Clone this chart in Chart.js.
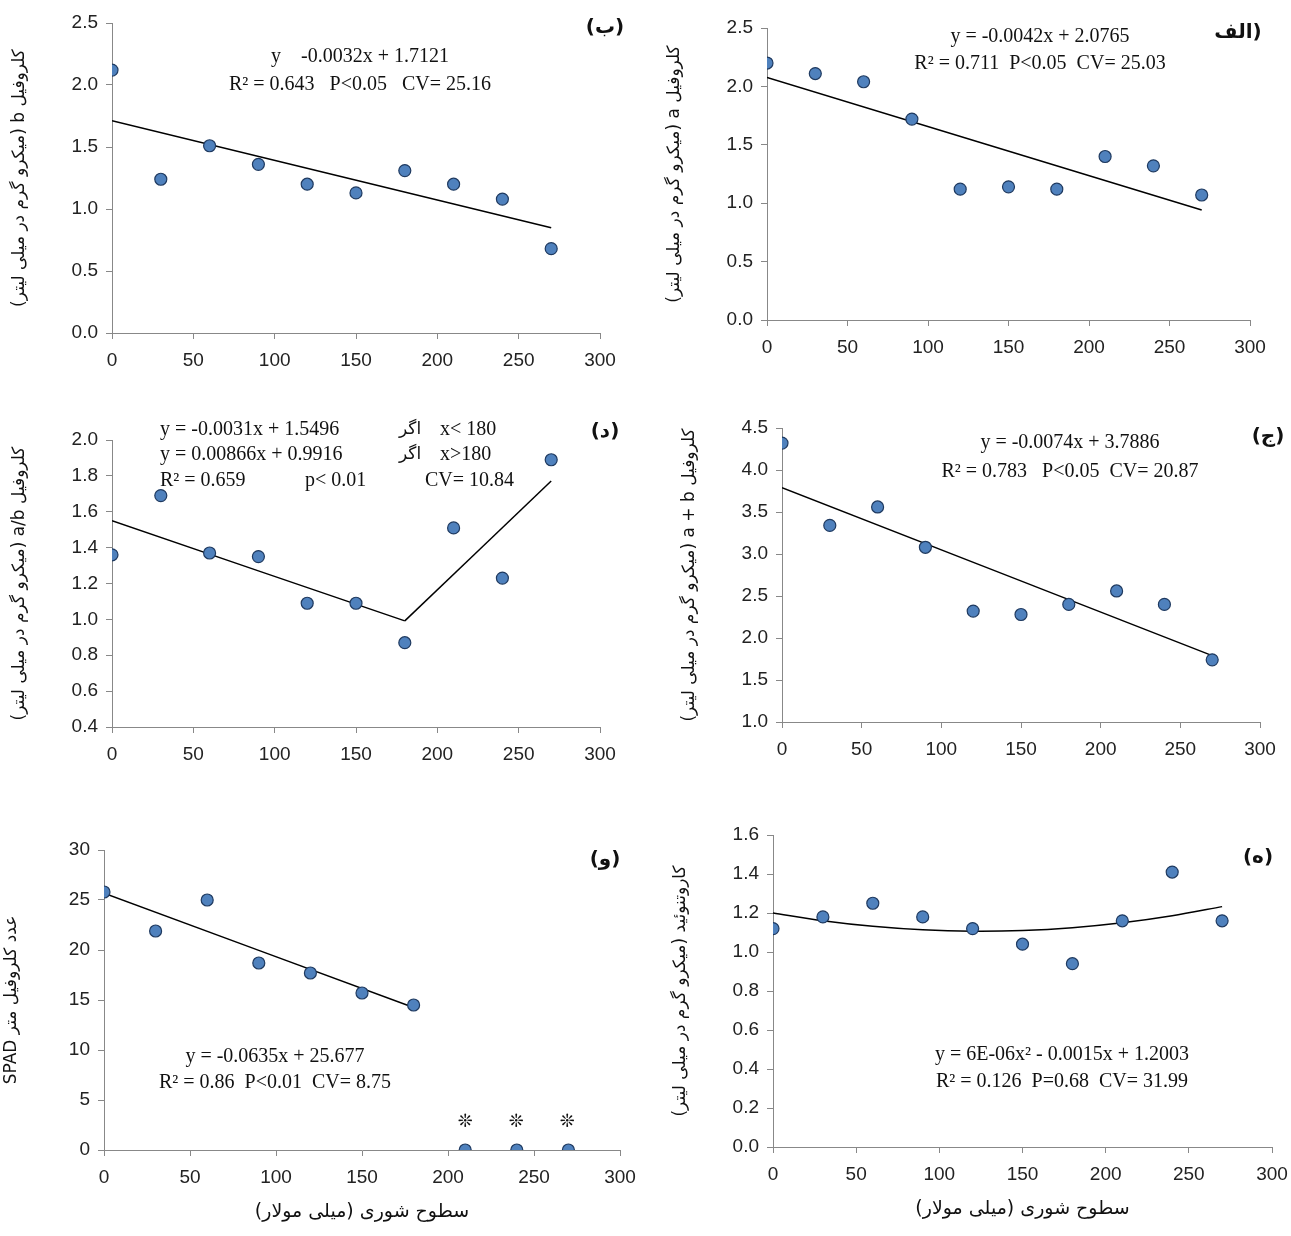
<!DOCTYPE html>
<html><head><meta charset="utf-8">
<script src="https://cdn.jsdelivr.net/npm/chart.js@4.4.0/dist/chart.umd.min.js"></script>
<style>
body{margin:0;background:#fff;width:1291px;height:1236px;position:relative;overflow:hidden}
canvas{position:absolute}
</style></head><body>
<script>
// salinity levels (mM)
const salinity = [0, 30, 60, 90, 120, 150, 180, 210, 240, 270];
const chlA = [2.20, 2.11, 2.04, 1.72, 1.12, 1.14, 1.12, 1.40, 1.32, 1.07];
const chlB = [2.12, 1.24, 1.51, 1.36, 1.20, 1.13, 1.31, 1.20, 1.08, 0.68];
const ratioAB = [1.36, 1.69, 1.37, 1.35, 1.09, 1.09, 0.87, 1.51, 1.23, 1.89];
const chlTotal = [4.32, 3.34, 3.56, 3.08, 2.32, 2.28, 2.40, 2.56, 2.40, 1.74];
const spad = [25.8, 21.9, 25.0, 18.7, 17.7, 15.7, 14.5, 0, 0, 0];
const carot = [1.12, 1.18, 1.25, 1.18, 1.12, 1.04, 0.94, 1.16, 1.41, 1.16];

// fitted trend coefficients [c0, c1, c2] from printed equations
const fitA = [2.0765, -0.0042];
const fitB = [1.7121, -0.0032];
const fitTotal = [3.7886, -0.0074];
const fitSpad = [25.677, -0.0635];
const fitCarot = [1.2003, -0.0015, 6e-6];
const fitRatioLow = [1.5496, -0.0031];
const fitRatioHigh = [-0.5672, 0.00866];

const poly = (c, x) => c.reduce((s, k, i) => s + k * Math.pow(x, i), 0);
const trend = (c, xs) => xs.map(x => ({x, y: poly(c, x)}));

const FA = '"DejaVu Sans", sans-serif';
const SERIF = '"Liberation Serif", serif';

function makePanel(o) {
  const padL = 110, padT = 30, padR = 30, padB = o.xTitle ? 80 : 50;
  const cv = document.createElement('canvas');
  const W = o.area[2] - o.area[0] + padL + padR;
  const H = o.area[3] - o.area[1] + padT + padB;
  const ox = o.area[0] - padL, oy = o.area[1] - padT;
  cv.width = W; cv.height = H;
  cv.style.left = ox + 'px'; cv.style.top = oy + 'px';
  cv.style.width = W + 'px'; cv.style.height = H + 'px';
  document.body.appendChild(cv);

  const textPlugin = {
    id: 'txt',
    afterDraw(chart) {
      const ctx = chart.ctx;
      ctx.save();
      ctx.fillStyle = '#111';
      // vertical y title, first word at the top
      ctx.save();
      ctx.translate(18, (chart.chartArea.top + chart.chartArea.bottom) / 2);
      ctx.rotate(-Math.PI / 2);
      ctx.font = '17px ' + FA;
      ctx.textAlign = 'center'; ctx.textBaseline = 'middle';
      ctx.direction = 'rtl';
      ctx.fillText(o.yTitle, 0, 0);
      ctx.restore();
      (o.texts || []).forEach(t => {
        ctx.font = t.font || ('20px ' + SERIF);
        ctx.textAlign = t.align || 'center';
        ctx.textBaseline = 'middle';
        ctx.direction = t.rtl ? 'rtl' : 'ltr';
        ctx.fillText(t.s, t.x - ox, t.y - oy);
      });
      if (o.xTitle) {
        ctx.font = '19px ' + FA; ctx.direction = 'rtl'; ctx.textAlign = 'center';
        ctx.fillText(o.xTitle, (chart.chartArea.left + chart.chartArea.right) / 2, H - 18);
      }
      ctx.restore();
    }
  };

  const datasets = [{
    type: 'scatter',
    data: salinity.map((x, i) => ({x, y: o.values[i]})),
    backgroundColor: '#4F81BD', borderColor: '#1F3A60', borderWidth: 1.2,
    pointRadius: 6, order: 0
  }];
  o.lines.forEach(l => datasets.push({
    type: 'line', data: l, borderColor: '#000', borderWidth: 1.5,
    pointRadius: 0, fill: false, tension: 0.3, order: 1
  }));

  new Chart(cv, {
    data: {datasets},
    plugins: [textPlugin],
    options: {
      responsive: false, animation: false, devicePixelRatio: 1,
      layout: {padding: {left: 0, top: padT, right: padR, bottom: padB - 45}},
      plugins: {legend: {display: false}, tooltip: {enabled: false}},
      scales: {
        x: {
          type: 'linear', min: 0, max: 300,
          afterFit(s) { s.height = 45; },
          ticks: {stepSize: 50, font: {size: 19, family: '"Liberation Sans"'}, color: '#222', maxRotation: 0, padding: 10},
          grid: {drawOnChartArea: false, tickLength: 6, color: '#888'},
          border: {color: '#888'}
        },
        y: {
          min: o.yMin, max: o.yMax,
          afterFit(s) { s.width = padL; },
          ticks: {stepSize: o.yStep, font: {size: 19, family: '"Liberation Sans"'}, color: '#222', padding: 8,
            callback: v => o.dec ? v.toFixed(1) : v},
          grid: {drawOnChartArea: false, tickLength: 6, color: '#888'},
          border: {color: '#888'}
        }
      }
    }
  });
}

const unit = '(میکرو گرم در میلی لیتر)';

makePanel({area: [112, 23, 600, 333], values: chlB, yMin: 0, yMax: 2.5, yStep: 0.5, dec: true,
  yTitle: 'کلروفیل b ' + unit, lines: [trend(fitB, [0, 270])],
  texts: [{s: 'y    -0.0032x + 1.7121', x: 360, y: 57}, {s: 'R² = 0.643   P<0.05   CV= 25.16', x: 360, y: 85},
    {s: '(ب)', x: 605, y: 28, font: 'bold 20px ' + FA, rtl: true}]});

makePanel({area: [767, 28, 1250, 320], values: chlA, yMin: 0, yMax: 2.5, yStep: 0.5, dec: true,
  yTitle: 'کلروفیل a ' + unit, lines: [trend(fitA, [0, 270])],
  texts: [{s: 'y = -0.0042x + 2.0765', x: 1040, y: 37}, {s: 'R² = 0.711  P<0.05  CV= 25.03', x: 1040, y: 64},
    {s: '(الف', x: 1238, y: 33, font: 'bold 20px ' + FA, rtl: true}]});

makePanel({area: [112, 440, 600, 727], values: ratioAB, yMin: 0.4, yMax: 2.0, yStep: 0.2, dec: true,
  yTitle: 'کلروفیل a/b ' + unit, lines: [trend(fitRatioLow, [0, 180]), trend(fitRatioHigh, [180, 270])],
  texts: [
    {s: 'y = -0.0031x + 1.5496', x: 160, y: 430, align: 'left'}, {s: 'اگر', x: 410, y: 430, font: '17px ' + FA}, {s: 'x< 180', x: 440, y: 430, align: 'left'},
    {s: 'y = 0.00866x + 0.9916', x: 160, y: 455, align: 'left'}, {s: 'اگر', x: 410, y: 455, font: '17px ' + FA}, {s: 'x>180', x: 440, y: 455, align: 'left'},
    {s: 'R² = 0.659', x: 160, y: 481, align: 'left'}, {s: 'p< 0.01', x: 305, y: 481, align: 'left'}, {s: 'CV= 10.84', x: 425, y: 481, align: 'left'},
    {s: '(د)', x: 605, y: 432, font: 'bold 20px ' + FA, rtl: true}]});

makePanel({area: [782, 428, 1260, 722], values: chlTotal, yMin: 1.0, yMax: 4.5, yStep: 0.5, dec: true,
  yTitle: 'کلروفیل a + b ' + unit, lines: [trend(fitTotal, [0, 270])],
  texts: [{s: 'y = -0.0074x + 3.7886', x: 1070, y: 443}, {s: 'R² = 0.783   P<0.05  CV= 20.87', x: 1070, y: 472},
    {s: '(ج)', x: 1268, y: 437, font: 'bold 20px ' + FA, rtl: true}]});

makePanel({area: [104, 850, 620, 1150], values: spad, yMin: 0, yMax: 30, yStep: 5, dec: false,
  yTitle: 'عدد کلروفیل متر SPAD', lines: [trend(fitSpad, [0, 180])], xTitle: 'سطوح شوری (میلی مولار)',
  texts: [{s: 'y = -0.0635x + 25.677', x: 275, y: 1057}, {s: 'R² = 0.86  P<0.01  CV= 8.75', x: 275, y: 1083},
    {s: '❊', x: 465, y: 1122, font: '18px ' + FA}, {s: '❊', x: 516, y: 1122, font: '18px ' + FA}, {s: '❊', x: 567, y: 1122, font: '18px ' + FA},
    {s: '(و)', x: 605, y: 860, font: 'bold 20px ' + FA, rtl: true}]});

makePanel({area: [773, 835, 1272, 1147], values: carot, yMin: 0, yMax: 1.6, yStep: 0.2, dec: true,
  yTitle: 'کاروتنوئید ' + unit, lines: [trend(fitCarot, [0, 30, 60, 90, 120, 150, 180, 210, 240, 270])], xTitle: 'سطوح شوری (میلی مولار)',
  texts: [{s: 'y = 6E-06x² - 0.0015x + 1.2003', x: 1062, y: 1055}, {s: 'R² = 0.126  P=0.68  CV= 31.99', x: 1062, y: 1082},
    {s: '(ه)', x: 1258, y: 858, font: 'bold 20px ' + FA, rtl: true}]});
</script>
</body></html>
